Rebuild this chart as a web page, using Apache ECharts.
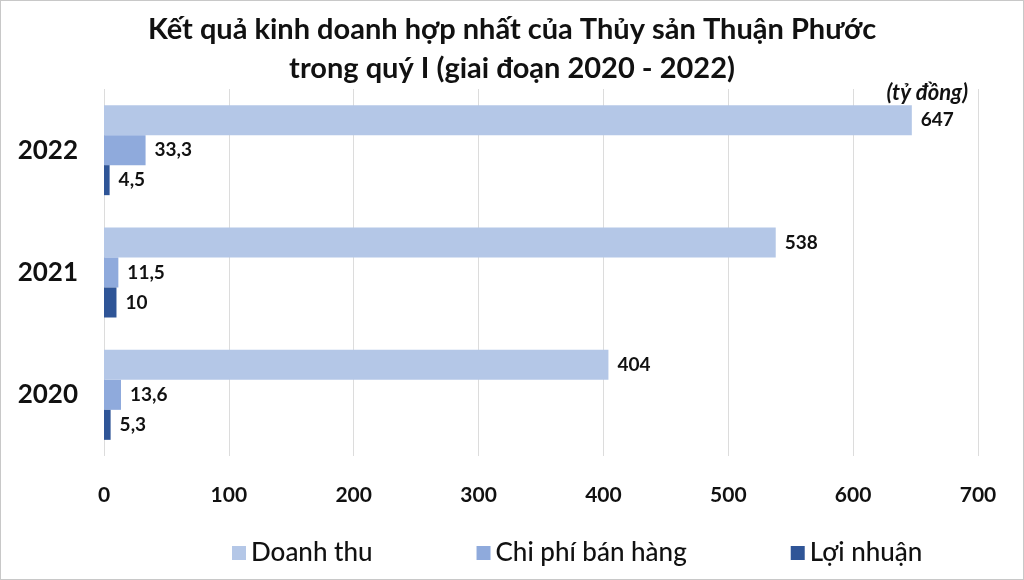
<!DOCTYPE html>
<html>
<head>
<meta charset="utf-8">
<script src="https://cdn.jsdelivr.net/npm/echarts@6/dist/echarts.min.js"></script>
<style>
html,body{margin:0;padding:0;background:#fff;}
#c{width:1022px;height:578px;border:1px solid #c8c8c8;}
</style>
</head>
<body>
<div id="c"></div>
<script>
const categories = ['2020', '2021', '2022'];
const doanhThu = [404, 538, 647];
const chiPhiBanHang = [13.6, 11.5, 33.3];
const loiNhuan = [5.3, 10, 4.5];
const seriesNames = ['Doanh thu', 'Chi phí bán hàng', 'Lợi nhuận'];
const xTicks = { min: 0, max: 700, interval: 100 };

const FONT = 'Lato';
const chart = echarts.init(document.getElementById('c'));
const fmt = p => String(p.value).replace('.', ',');
const lbl = {
  show: true, position: 'right', distance: 9, formatter: fmt,
  color: '#111', fontFamily: FONT, fontWeight: 'bold', fontSize: 19
};
chart.setOption({
  animation: false,
  backgroundColor: '#fff',
  title: {
    text: 'Kết quả kinh doanh hợp nhất của Thủy sản Thuận Phước\ntrong quý I (giai đoạn 2020 - 2022)',
    left: 'center', top: 4,
    textStyle: { fontFamily: FONT, fontWeight: 'bold', fontSize: 29, color: '#111', lineHeight: 39 }
  },
  graphic: [{
    type: 'text', right: 55, top: 81,
    style: { text: '(tỷ đồng)', fontFamily: FONT, fontStyle: 'italic', fontWeight: 'bold', fontSize: 22, fill: '#111' }
  }],
  legend: {
    bottom: 8, left: 226, itemGap: 104, itemWidth: 14, itemHeight: 14,
    icon: 'rect',
    textStyle: { fontFamily: FONT, fontSize: 26, color: '#111', fontWeight: 500 },
    data: seriesNames
  },
  grid: { left: 103, right: 45, top: 88, bottom: 123, containLabel: false },
  xAxis: {
    type: 'value', min: xTicks.min, max: xTicks.max, interval: xTicks.interval,
    axisLine: { show: false }, axisTick: { show: false },
    splitLine: { lineStyle: { color: '#dcdcdc', width: 1 } },
    axisLabel: { margin: 29, fontFamily: FONT, fontWeight: 'bold', fontSize: 21, color: '#111' }
  },
  yAxis: {
    type: 'category', data: categories,
    axisLine: { show: false }, axisTick: { show: false },
    axisLabel: { margin: 26, fontFamily: FONT, fontWeight: 'bold', fontSize: 26, color: '#111' }
  },
  series: [
    { name: seriesNames[0], type: 'bar', data: doanhThu, barWidth: 30, barGap: '0%',
      itemStyle: { color: '#b4c7e7' }, label: lbl },
    { name: seriesNames[1], type: 'bar', data: chiPhiBanHang, barWidth: 30, barGap: '0%',
      itemStyle: { color: '#8faadc' }, label: lbl },
    { name: seriesNames[2], type: 'bar', data: loiNhuan, barWidth: 30, barGap: '0%',
      itemStyle: { color: '#2f5597' }, label: lbl }
  ]
});
</script>
</body>
</html>
